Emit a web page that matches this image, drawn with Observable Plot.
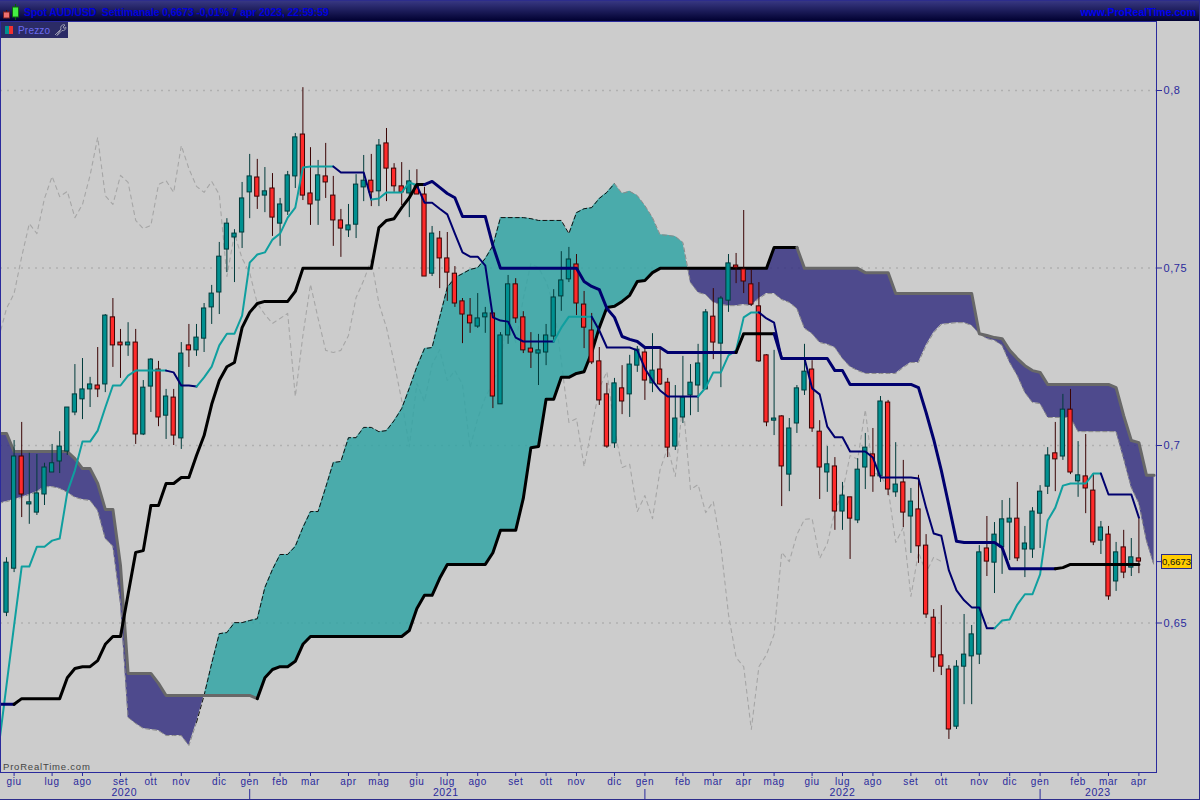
<!DOCTYPE html>
<html><head><meta charset="utf-8">
<script src="https://cdn.jsdelivr.net/npm/d3@7"></script>
<script src="https://cdn.jsdelivr.net/npm/@observablehq/plot@0.6"></script>
<style>
html,body{margin:0;padding:0;background:#ccc;width:1200px;height:800px;overflow:hidden;font-family:"Liberation Sans",Arial,sans-serif}
#wrap{position:relative;width:1200px;height:800px}
#head{position:absolute;left:0;top:0;width:1200px;background:linear-gradient(#3a3a86,#000030);border-bottom:1px solid #22226a;box-sizing:border-box;height:22px}
#title{position:absolute;left:24px;top:6px;font:bold 10.5px "Liberation Sans";letter-spacing:-.12px;color:#0000dc;white-space:pre}
#site{position:absolute;right:4px;top:6px;font:bold 10.5px "Liberation Sans";color:#0000f0}
#icon{position:absolute;left:2px;top:3px}
#chart{position:absolute;left:0;top:21px}
#prezzo{position:absolute;left:1px;top:22px;width:67px;height:16px;background:#2b2b66;color:#6a6af0;font:10px "Liberation Sans";letter-spacing:.2px;z-index:3}
#prezzo span{position:absolute;left:17px;top:2.5px}
#prezzo i{position:absolute;top:4px;width:4px;height:8px}
#prt{position:absolute;left:3px;top:761px;font:9.5px "Liberation Sans";letter-spacing:.8px;color:#444}
#last{position:absolute;left:1161px;width:29px;height:13px;background:#ffcc00;border:1px solid #2a2a8c;font:9.5px/13px "Liberation Sans";color:#111;text-align:center}
#border{position:absolute;left:0;top:0;width:1200px;height:800px;box-sizing:border-box;border:1px solid #2d2d8c;border-left:none;pointer-events:none}
</style></head><body>
<div id="wrap">
<div id="head">
<svg id="icon" width="20" height="17"><line x1="4.5" y1="7" x2="4.5" y2="16" stroke="#500"/><rect x="1.5" y="9" width="6" height="6" fill="#f07070" stroke="#722"/><line x1="13.5" y1="1" x2="13.5" y2="17" stroke="#060"/><rect x="10.5" y="4" width="6" height="10" fill="#44ee44" stroke="#161"/></svg>
<div id="title">Spot AUD/USD  Settimanale 0,6673 -0,01% 7 apr 2023, 22:59:59</div>
<div id="site">www.ProRealTime.com</div>
</div>
<div id="chart"></div>
<div id="prezzo"><i style="left:4px;background:#009090"></i><i style="left:8px;background:#f03030"></i><span>Prezzo</span>
<svg style="position:absolute;left:52px;top:1px" width="14" height="14"><path d="M2 12 L8 6 M8 6 A3 3 0 0 1 12 2 L10 4 L11 5.5 L12.8 4 A3 3 0 0 1 9 7.5 L4 12.5 Z" fill="none" stroke="#9a9ab0" stroke-width="1"/></svg></div>
<div id="prt">ProRealTime.com</div>
<div id="last"></div>
<div id="border"></div>
</div>
<script>
const monthWeeks=[1,6,10,15,19,23,28,32,36,40,45,49,54,58,62,67,71,75,80,84,89,93,97,101,106,110,114,119,123,128,132,136,141,145,149];
const monthLabels=["giu","lug","ago","set","ott","nov","dic","gen","feb","mar","apr","mag","giu","lug","ago","set","ott","nov","dic","gen","feb","mar","apr","mag","giu","lug","ago","set","ott","nov","dic","gen","feb","mar","apr"];
const yearWeeks=[15.5,57.8,110,143.6];
const yearLabels=["2020","2021","2022","2023"];
const yearBreaks=[32,84,136];
const priceTicks=[0.8,0.75,0.7,0.65];

const opens=[
.6529,.6653,.6969,.6834,.6811,.6862,.6924,.6955,.6983,.7093,
.7130,.7158,.7169,.7172,.7361,.7290,.7282,.7290,.7031,.7166,
.7214,.7084,.7135,.7020,.7282,.7268,.7301,.7389,.7431,.7552,
.7586,.7600,.7713,.7755,.7704,.7724,.7625,.7659,.7758,.7876,
.7710,.7690,.7758,.7704,.7634,.7606,.7622,.7727,.7746,.7716,
.7851,.7780,.7730,.7710,.7733,.7707,.7484,.7583,.7527,.7484,
.7406,.7366,.7335,.7361,.7372,.7116,.7310,.7454,.7361,.7273,
.7259,.7262,.7307,.7420,.7468,.7510,.7397,.7324,.7237,.7144,
.7006,.7161,.7144,.7225,.7262,.7175,.7214,.7177,.6997,.7079,
.7141,.7169,.7158,.7363,.7287,.7408,.7507,.7496,.7454,.7392,
.7254,.7070,.7082,.6918,.7062,.7155,.7214,.7039,.6924,.6941,
.6814,.6854,.6789,.6938,.6975,.6913,.7121,.6868,.6896,.6800,
.6820,.6718,.6515,.6409,.6369,.6208,.6377,.6406,.6411,.6710,
.6670,.6713,.6783,.6794,.6707,.6707,.6808,.6884,.6978,.6969,
.7101,.6899,.6913,.6873,.6732,.6749,.6617,.6713,.6656,.6682];
const closes=[
.6670,.6969,.6862,.6840,.6865,.6938,.6950,.6997,.7107,.7144,
.7158,.7172,.7158,.7366,.7282,.7282,.7290,.7031,.7163,.7242,
.7079,.7138,.7028,.7259,.7268,.7304,.7386,.7428,.7532,.7625,
.7597,.7696,.7758,.7701,.7716,.7642,.7679,.7761,.7868,.7704,
.7679,.7761,.7741,.7634,.7611,.7620,.7735,.7746,.7713,.7845,
.7780,.7730,.7713,.7744,.7707,.7476,.7597,.7527,.7487,.7400,
.7369,.7344,.7358,.7372,.7138,.7310,.7454,.7358,.7268,.7262,
.7268,.7310,.7417,.7465,.7524,.7400,.7332,.7234,.7127,.6997,
.7175,.7124,.7228,.7270,.7183,.7211,.7172,.6994,.7076,.7135,
.7177,.7231,.7375,.7290,.7414,.7513,.7501,.7462,.7397,.7237,
.7065,.7076,.6941,.7048,.7161,.7208,.7048,.6938,.6947,.6814,
.6859,.6794,.6932,.6994,.6913,.7124,.6876,.6890,.6811,.6842,
.6716,.6524,.6403,.6377,.6200,.6377,.6411,.6468,.6699,.6673,
.6749,.6792,.6794,.6682,.6724,.6814,.6870,.6972,.6961,.7101,
.6924,.6916,.6879,.6727,.6769,.6575,.6699,.6642,.6685,.6673];
const highs=[
.6684,.7014,.7065,.6978,.6975,.6950,.7003,.7039,.7107,.7228,
.7245,.7192,.7276,.7369,.7414,.7327,.7346,.7327,.7183,.7245,
.7237,.7158,.7158,.7290,.7341,.7341,.7400,.7451,.7572,.7639,
.7608,.7741,.7820,.7806,.7783,.7766,.7696,.7772,.7879,.8008,
.7839,.7803,.7851,.7758,.7665,.7679,.7763,.7817,.7820,.7862,
.7893,.7794,.7797,.7775,.7777,.7727,.7617,.7603,.7600,.7504,
.7414,.7414,.7428,.7389,.7372,.7318,.7479,.7470,.7377,.7318,
.7313,.7341,.7439,.7546,.7558,.7538,.7434,.7372,.7276,.7175,
.7189,.7225,.7254,.7279,.7273,.7315,.7273,.7189,.7169,.7251,
.7228,.7285,.7383,.7442,.7420,.7538,.7541,.7662,.7496,.7459,
.7256,.7268,.7084,.7076,.7169,.7285,.7239,.7070,.6997,.6966,
.6896,.6854,.6963,.7034,.7048,.7138,.7127,.7008,.6958,.6879,
.6916,.6749,.6538,.6549,.6380,.6394,.6524,.6493,.6718,.6800,
.6783,.6845,.6851,.6896,.6772,.6825,.6887,.6994,.7065,.7144,
.7158,.7011,.7031,.6921,.6786,.6772,.6727,.6761,.6738,.6797];
const lows=[
.6518,.6642,.6797,.6778,.6803,.6831,.6924,.6921,.6972,.7084,
.7073,.7107,.7135,.7149,.7220,.7189,.7251,.7003,.7028,.7093,
.7053,.7017,.7000,.6989,.7220,.7251,.7262,.7341,.7369,.7487,
.7459,.7555,.7639,.7665,.7656,.7589,.7561,.7648,.7724,.7690,
.7620,.7620,.7696,.7561,.7530,.7586,.7583,.7687,.7673,.7673,
.7687,.7713,.7676,.7642,.7707,.7476,.7476,.7442,.7406,.7389,
.7287,.7316,.7330,.7316,.7104,.7116,.7285,.7344,.7259,.7217,
.7169,.7225,.7296,.7378,.7459,.7366,.7273,.7228,.7113,.6992,
.6992,.7087,.7079,.7206,.7127,.7149,.7169,.6966,.6986,.7062,
.7084,.7093,.7158,.7242,.7163,.7375,.7456,.7428,.7392,.7234,
.7053,.7028,.6828,.6870,.7034,.7141,.7037,.6848,.6868,.6761,
.6761,.6679,.6780,.6876,.6868,.6896,.6859,.6854,.6769,.6696,
.6668,.6513,.6361,.6352,.6172,.6200,.6270,.6270,.6383,.6631,
.6583,.6637,.6676,.6673,.6628,.6682,.6710,.6862,.6870,.6958,
.6918,.6854,.6808,.6718,.6693,.6564,.6589,.6625,.6631,.6639];
/* the four series below start one week before the first candle */
const kijun=[
.6271,.6271,.6271,.6287,.6287,.6287,.6287,.6287,.6287,.6346,
.6372,.6377,.6377,.6394,.6440,.6462,.6462,.6581,.6699,.6704,
.6831,.6831,.6893,.6893,.6910,.6910,.6972,.7028,.7116,.7183,
.7222,.7234,.7332,.7375,.7400,.7406,.7406,.7406,.7406,.7434,
.7499,.7499,.7499,.7499,.7499,.7499,.7499,.7499,.7499,.7499,
.7614,.7634,.7639,.7670,.7698,.7735,.7735,.7744,.7727,.7710,
.7698,.7645,.7645,.7645,.7645,.7563,.7499,.7499,.7499,.7499,
.7499,.7499,.7499,.7499,.7499,.7499,.7499,.7462,.7448,.7439,
.7386,.7361,.7307,.7299,.7293,.7276,.7276,.7276,.7262,.7262,
.7262,.7262,.7262,.7262,.7262,.7262,.7262,.7262,.7315,.7315,
.7315,.7315,.7315,.7245,.7245,.7245,.7245,.7245,.7245,.7245,
.7211,.7211,.7172,.7172,.7172,.7172,.7172,.7172,.7172,.7172,
.7172,.7163,.7093,.7017,.6930,.6831,.6730,.6727,.6727,.6727,
.6727,.6727,.6713,.6653,.6653,.6653,.6653,.6653,.6653,.6653,
.6656,.6665,.6665,.6665,.6665,.6665,.6665,.6665,.6665,.6665,
.6665];
const tenkan=[
.6155,.6324,.6493,.6659,.6659,.6715,.6715,.6732,.6738,.6868,
.6930,.7011,.7011,.7042,.7107,.7169,.7169,.7197,.7211,.7211,
.7211,.7211,.7211,.7206,.7169,.7169,.7166,.7192,.7222,.7282,
.7315,.7315,.7366,.7515,.7538,.7544,.7580,.7597,.7642,.7670,
.7783,.7786,.7786,.7786,.7786,.7769,.7769,.7769,.7769,.7693,
.7696,.7713,.7713,.7713,.7741,.7733,.7684,.7684,.7667,.7651,
.7597,.7544,.7532,.7532,.7507,.7361,.7352,.7349,.7304,.7293,
.7293,.7293,.7293,.7293,.7332,.7363,.7363,.7363,.7363,.7324,
.7276,.7276,.7276,.7276,.7268,.7217,.7183,.7155,.7138,.7138,
.7138,.7138,.7138,.7163,.7206,.7206,.7254,.7268,.7361,.7375,
.7375,.7358,.7346,.7245,.7245,.7245,.7245,.7161,.7144,.7053,
.7023,.7023,.6983,.6983,.6983,.6966,.6910,.6910,.6910,.6910,
.6910,.6907,.6825,.6752,.6746,.6648,.6592,.6564,.6544,.6544,
.6485,.6485,.6507,.6510,.6552,.6581,.6581,.6637,.6789,.6825,
.6887,.6893,.6893,.6893,.6921,.6921,.6862,.6862,.6862,.6862,
.6797];
const spanA=[
.6837,.6842,.6848,.6854,.6862,.6870,.6884,.6884,.6879,.6868,
.6854,.6848,.6845,.6817,.6738,.6716,.6555,.6234,.6217,.6203,
.6200,.6197,.6183,.6183,.6183,.6155,.6220,.6296,.6386,.6470,
.6473,.6501,.6501,.6507,.6512,.6600,.6651,.6693,.6693,.6716,
.6769,.6814,.6814,.6882,.6952,.6955,.7022,.7022,.7051,.7051,
.7039,.7042,.7070,.7104,.7161,.7222,.7273,.7276,.7361,.7445,
.7473,.7484,.7496,.7501,.7527,.7563,.7642,.7642,.7642,.7642,
.7639,.7634,.7634,.7634,.7634,.7597,.7656,.7667,.7670,.7696,
.7713,.7738,.7710,.7716,.7704,.7676,.7642,.7594,.7592,.7589,
.7572,.7459,.7431,.7425,.7403,.7397,.7394,.7394,.7397,.7394,
.7414,.7428,.7428,.7411,.7403,.7386,.7330,.7315,.7290,.7285,
.7276,.7245,.7222,.7211,.7203,.7203,.7203,.7203,.7203,.7220,
.7234,.7234,.7282,.7318,.7341,.7344,.7346,.7346,.7338,.7315,
.7301,.7296,.7282,.7234,.7197,.7149,.7121,.7118,.7079,.7079,
.7079,.7079,.7039,.7039,.7039,.7039,.7039,.7039,.6963,.6882,
.6837,.6732,.6662];
const spanB=[
.7034,.7034,.6983,.6983,.6983,.6983,.6983,.6983,.6983,.6983,
.6963,.6935,.6935,.6893,.6820,.6820,.6662,.6358,.6358,.6358,
.6358,.6330,.6296,.6296,.6296,.6296,.6296,.6296,.6296,.6296,
.6296,.6296,.6296,.6296,.6287,.6346,.6369,.6377,.6377,.6392,
.6440,.6462,.6462,.6462,.6462,.6462,.6462,.6462,.6462,.6462,
.6462,.6462,.6462,.6462,.6479,.6541,.6578,.6578,.6626,.6665,
.6665,.6665,.6665,.6665,.6665,.6698,.6761,.6761,.6761,.6851,
.6994,.6997,.7130,.7130,.7192,.7192,.7203,.7208,.7262,.7332,
.7389,.7392,.7406,.7423,.7462,.7465,.7487,.7499,.7499,.7499,
.7499,.7499,.7499,.7499,.7499,.7499,.7499,.7499,.7499,.7499,
.7499,.7499,.7558,.7558,.7558,.7558,.7499,.7499,.7499,.7499,
.7499,.7499,.7499,.7499,.7487,.7487,.7487,.7487,.7428,.7428,
.7428,.7428,.7428,.7428,.7428,.7428,.7428,.7428,.7428,.7315,
.7310,.7304,.7301,.7268,.7245,.7225,.7211,.7206,.7172,.7172,
.7172,.7172,.7172,.7172,.7172,.7172,.7172,.7163,.7084,.7014,
.7008,.6916,.6916];

const C={teal:"#0f9f9f",navy:"#00006e",black:"#000",gray:"#686868",dgray:"#8a8a8a",
  up:"#009090",down:"#ff2a2a",upEdge:"#003b3b",downEdge:"#3a0404",ink:"#2a2a9c",
  bull:"#33a5a5",bear:"#373381",grid:"#b0b0b0",chikou:"#a6a6a6"};

const weeks=opens.map((_,i)=>i);
const candles=weeks.map(i=>({i,o:opens[i],c:closes[i],h:highs[i],l:lows[i],up:closes[i]>=opens[i]}));
const series=(vals)=>vals.map((v,k)=>({i:k-1,v}));
/* lagging line: each close plotted 26 weeks earlier */
const chikou=closes.map((v,i)=>({i:i-26,v})).filter(d=>d.i>=-1);

/* cloud rows, with the point where spans cross so the two colours meet cleanly */
const cloud=[];
spanA.forEach((a,k)=>{
  const b=spanB[k],i=k-1;
  if(k>0){const a0=spanA[k-1],b0=spanB[k-1],d0=a0-b0,d1=a-b;
    if(d0*d1<0){const t=d0/(d0-d1);const m=a0+(a-a0)*t;cloud.push({i:i-1+t,a:m,b:m});}}
  cloud.push({i,a,b});
});
const bull=cloud.map(d=>d.a>=d.b?d:{i:d.i,a:NaN,b:NaN});
const bear=cloud.map(d=>d.b>=d.a?d:{i:d.i,a:NaN,b:NaN});

const pieces=(vals,ranges,opt)=>ranges.map(([from,to,color])=>
  Plot.line(series(vals).filter(d=>d.i>=from&&d.i<=to),{x:"i",y:"v",stroke:color,clip:true,...opt}));

const kijunParts=[[-1,1,C.navy],[1,55,C.black],[55,96,C.navy],[96,101,C.black],[101,138,C.navy],[138,149,C.black]];
const tenkanParts=[[-1,21,C.teal],[21,25,C.navy],[25,43,C.teal],[43,48,C.navy],[48,54,C.teal],[54,72,C.navy],[72,77,C.teal],[77,91,C.navy],[91,99,C.teal],[99,130,C.navy],[130,144,C.teal],[144,149,C.navy]];
const spanBParts=[[-1,33,C.gray],[33,104,C.black],[104,151,C.gray]];
const spanAParts=[[-1,25,C.dgray],[25,80,"#111"],[80,151,C.dgray]];

const last=closes[closes.length-1];
const fmt=d=>String(d).replace(".",",");

const chart=Plot.plot({
  width:1200,height:779,marginTop:0,marginBottom:28,marginLeft:0,marginRight:44,
  style:{background:"#cccccc",color:C.ink,fontFamily:"'Liberation Sans',Arial,sans-serif",letterSpacing:"0.6px"},
  x:{type:"linear",domain:[-0.789,151.316],axis:null},
  y:{type:"linear",domain:[0.60789,0.81944],axis:null},
  marks:[
    Plot.ruleY(priceTicks,{stroke:C.grid,strokeWidth:1.5,strokeDasharray:"2,5"}),
    Plot.line(chikou,{x:"i",y:"v",stroke:C.chikou,strokeWidth:1.1,strokeDasharray:"4,4",clip:true}),
    Plot.areaY(bull,{x:"i",y1:"b",y2:"a",fill:C.bull,fillOpacity:.85,clip:true}),
    Plot.areaY(bear,{x:"i",y1:"a",y2:"b",fill:C.bear,fillOpacity:.85,clip:true}),
    ...pieces(spanA,spanAParts,{strokeWidth:1,strokeDasharray:"4,3"}),
    ...pieces(spanB,spanBParts,{strokeWidth:3}),
    Plot.ruleX(candles,{x:"i",y1:"l",y2:"h",stroke:d=>d.up?C.upEdge:C.downEdge,strokeWidth:1}),
    Plot.rect(candles,{x1:d=>d.i-.28,x2:d=>d.i+.28,y1:"o",y2:"c",fill:d=>d.up?C.up:C.down,stroke:d=>d.up?C.upEdge:C.downEdge,strokeWidth:1}),
    ...pieces(tenkan,tenkanParts,{strokeWidth:2}),
    ...pieces(kijun,kijunParts,{strokeWidth:3}),
    Plot.frame({stroke:C.ink,strokeWidth:1}),
    Plot.axisY(priceTicks,{anchor:"right",label:null,tickSize:5,tickPadding:2,fontSize:11,tickFormat:fmt}),
    Plot.axisY([last],{anchor:"right",label:null,tickSize:5,tickFormat:()=>""}),
    Plot.axisX(monthWeeks,{anchor:"bottom",label:null,tickSize:4,tickPadding:1,fontSize:10,tickFormat:d=>monthLabels[monthWeeks.indexOf(d)]}),
    Plot.axisX(yearWeeks,{anchor:"bottom",label:null,tickSize:0,tickPadding:16,fontSize:10.5,tickFormat:d=>yearLabels[yearWeeks.indexOf(d)]}),
    Plot.axisX(yearBreaks,{anchor:"bottom",label:null,tickSize:10,dy:17,tickFormat:()=>""})
  ]
});
document.getElementById("chart").append(chart);
const lastBox=document.getElementById("last");
lastBox.textContent=fmt(last);
lastBox.style.top=(21+chart.scale("y").apply(last)-7.5)+"px";
</script>
</body></html>
